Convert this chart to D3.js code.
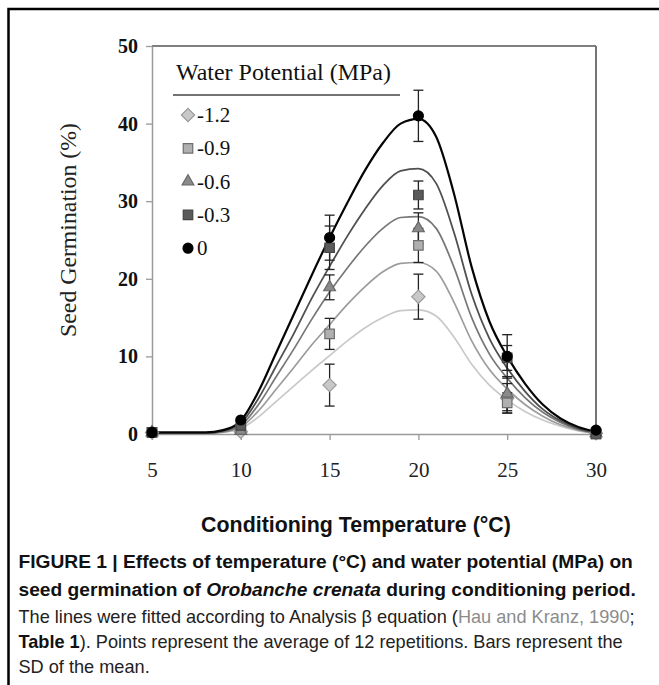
<!DOCTYPE html>
<html><head><meta charset="utf-8">
<script src="https://cdn.jsdelivr.net/npm/d3@7"></script>
<style>body{margin:0;background:#fff}svg{display:block}</style>
</head><body><svg id="c" width="659" height="685"></svg>
<script>
// ---------- data ----------
const temps = [5, 10, 15, 20, 25, 30];
const potentials = ["-1.2", "-0.9", "-0.6", "-0.3", "0"];
const mean_m12 = [0.2, 0.3, 6.3, 17.7, 4.6, 0.1];
const mean_m09 = [0.2, 0.6, 12.9, 24.3, 4.0, 0.0];
const mean_m06 = [0.2, 0.4, 18.9, 26.5, 5.2, 0.1];
const mean_m03 = [0.2, 1.1, 24.0, 30.8, 9.8, 0.0];
const mean_0   = [0.2, 1.8, 25.3, 41.0, 10.0, 0.5];
const sd_m12 = [0, 0, 2.7, 2.9, 1.9, 0];
const sd_m09 = [0, 0, 2.0, 2.2, 1.3, 0];
const sd_m06 = [0, 0, 1.6, 2.0, 2.2, 0];
const sd_m03 = [0, 0, 2.8, 1.8, 1.6, 0];
const sd_0   = [0, 0, 2.9, 3.3, 2.8, 0];
const fitTemps = [5,6,7,8,9,10,11,12,13,14,15,16,17,18,19,20,21,22,23,24,25,26,27,28,29,30];
const fit_m12 = [0.1,0.1,0.1,0.1,0.2,0.7,2.2,4.2,6.2,8.2,10.1,12.0,13.7,15.0,15.9,16.0,15.2,12.5,9.0,6.3,4.4,2.9,1.8,1.0,0.4,0.1];
const fit_m09 = [0.1,0.1,0.1,0.1,0.25,0.9,3.0,5.8,8.6,11.5,14.1,16.7,19.0,20.9,22.0,22.1,21.0,17.0,12.0,8.3,5.8,3.8,2.3,1.2,0.5,0.1];
const fit_m06 = [0.1,0.1,0.1,0.1,0.3,1.1,3.8,7.4,11.0,14.8,18.3,21.4,24.2,26.5,27.9,28.0,26.5,21.5,15.0,10.3,7.2,4.7,2.8,1.5,0.6,0.2];
const fit_m03 = [0.1,0.1,0.1,0.1,0.4,1.4,4.6,8.8,13.0,17.5,21.6,25.5,29.0,32.0,33.9,34.2,32.3,26.0,18.0,12.3,8.5,5.5,3.2,1.7,0.7,0.2];
const fit_0   = [0.2,0.2,0.2,0.2,0.5,1.7,5.5,10.5,15.5,20.5,25.3,29.8,34.0,37.5,40.0,40.6,38.3,31.0,21.5,14.5,10.0,6.5,3.8,2.0,0.9,0.3];
const xTicks = [5, 10, 15, 20, 25, 30];
const yTicks = [0, 10, 20, 30, 40, 50];
const legendTitle = "Water Potential (MPa)";
const xTitle = "Conditioning Temperature (°C)";
const yTitle = "Seed Germination (%)";

// ---------- styles ----------
const lineColors   = ["#c9c9c9", "#9c9c9c", "#777777", "#505050", "#050505"];
const lineWidths   = [1.7, 1.7, 1.7, 1.8, 2.2];
const markerFill   = ["#c8c8c8", "#b0b0b0", "#8a8a8a", "#5a5a5a", "#000000"];
const markerStroke = ["#9a9a9a", "#6e6e6e", "#666666", "#444444", "#000000"];
const markerKind   = ["diamond", "square", "triangle", "square", "circle"];

const means = [mean_m12, mean_m09, mean_m06, mean_m03, mean_0];
const sds   = [sd_m12, sd_m09, sd_m06, sd_m03, sd_0];
const fits  = [fit_m12, fit_m09, fit_m06, fit_m03, fit_0];

const svg = d3.select("#c");
const x = d3.scaleLinear().domain([5, 30]).range([152, 596]);
const y = d3.scaleLinear().domain([0, 50]).range([434, 46]);

function fitWidth(sel, target) {
  const w = sel.node().getComputedTextLength();
  const fs = parseFloat(sel.attr("font-size"));
  sel.attr("font-size", fs * target / w);
  return fs * target / w;
}

// outer frame (left and top)
svg.append("path").attr("d", "M8.5,685 L8.5,9 L659,9")
  .attr("fill", "none").attr("stroke", "#000").attr("stroke-width", 2.5);

// plot frame top/right
svg.append("line").attr("x1", x(5)).attr("x2", x(30)).attr("y1", y(50)).attr("y2", y(50))
  .attr("stroke", "#555").attr("stroke-width", 1.5);
svg.append("line").attr("x1", x(30)).attr("x2", x(30)).attr("y1", y(50)).attr("y2", y(0))
  .attr("stroke", "#666").attr("stroke-width", 1.8);

const serif = "'Liberation Serif','Times New Roman',serif";
const sans = "'Liberation Sans',Arial,Helvetica,sans-serif";

// axes
const yAxis = svg.append("g").attr("transform", `translate(${x(5)},0)`)
  .call(d3.axisLeft(y).tickValues(yTicks).tickSize(6).tickSizeOuter(0).tickPadding(8));
const xAxis = svg.append("g").attr("transform", `translate(0,${y(0)})`)
  .call(d3.axisBottom(x).tickValues(xTicks).tickSize(6).tickSizeOuter(0).tickPadding(22));
[yAxis, xAxis].forEach(g => {
  g.select(".domain").attr("stroke", "#9a9a9a").attr("stroke-width", 1.5);
  g.selectAll(".tick line").attr("stroke", "#9a9a9a").attr("stroke-width", 1.3);
  g.selectAll(".tick text").attr("font-family", serif).attr("font-size", 20).attr("fill", "#111");
});
yAxis.selectAll(".tick text").attr("font-weight", "bold");
xAxis.selectAll(".tick text").attr("font-size", 21).attr("fill", "#222");

// fitted curves
const line = d3.line().x(d => x(d[0])).y(d => y(d[1])).curve(d3.curveMonotoneX);
fits.forEach((f, i) => {
  svg.append("path").datum(fitTemps.map((t, k) => [t, f[k]]))
    .attr("d", line).attr("fill", "none")
    .attr("stroke", lineColors[i]).attr("stroke-width", lineWidths[i]);
});

function symbolPath(kind) {
  if (kind === "diamond") return d3.symbol().type(d3.symbolSquare).size(88)();
  if (kind === "square") return d3.symbol().type(d3.symbolSquare).size(90)();
  if (kind === "triangle") return d3.symbol().type(d3.symbolTriangle).size(60)();
  return d3.symbol().type(d3.symbolCircle).size(78)();
}
function drawMarker(g, kind, cx, cy, i) {
  g.append("path").attr("d", symbolPath(kind))
    .attr("transform", `translate(${cx},${cy})` + (kind === "diamond" ? " rotate(45)" : ""))
    .attr("fill", markerFill[i]).attr("stroke", markerStroke[i]).attr("stroke-width", 1.2);
}

// error bars + markers
const pts = svg.append("g");
means.forEach((m, i) => {
  m.forEach((v, k) => {
    const s = sds[i][k];
    if (s > 0) {
      const cx = x(temps[k]);
      const eg = pts.append("g").attr("stroke", "#222").attr("stroke-width", 1.3);
      eg.append("line").attr("x1", cx).attr("x2", cx).attr("y1", y(v - s)).attr("y2", y(v + s));
      eg.append("line").attr("x1", cx - 5).attr("x2", cx + 5).attr("y1", y(v - s)).attr("y2", y(v - s));
      eg.append("line").attr("x1", cx - 5).attr("x2", cx + 5).attr("y1", y(v + s)).attr("y2", y(v + s));
    }
  });
});
means.forEach((m, i) => {
  m.forEach((v, k) => drawMarker(pts, markerKind[i], x(temps[k]), y(v), i));
});

// legend
const lg = svg.append("g");
const lt = lg.append("text").attr("x", 176).attr("y", 80).attr("font-family", serif)
  .attr("font-size", 24).attr("fill", "#111").text(legendTitle);
fitWidth(lt, 215);
lg.append("line").attr("x1", 173).attr("x2", 400).attr("y1", 95).attr("y2", 95)
  .attr("stroke", "#444").attr("stroke-width", 1.5);
potentials.forEach((p, i) => {
  const cy = 115 + i * 33.3;
  drawMarker(lg, markerKind[i], 188, cy, i);
  lg.append("text").attr("x", 197).attr("y", cy + 7).attr("font-family", serif)
    .attr("font-size", 21).attr("fill", "#111").text(p);
});

// axis titles
const yt = svg.append("text").attr("transform", "translate(76,230) rotate(-90)")
  .attr("text-anchor", "middle").attr("font-family", serif).attr("font-size", 21)
  .attr("fill", "#222").text(yTitle);
fitWidth(yt, 214);
const xt = svg.append("text").attr("x", 356).attr("y", 532).attr("text-anchor", "middle")
  .attr("font-family", sans).attr("font-weight", "bold").attr("font-size", 20)
  .attr("fill", "#111").text(xTitle);
fitWidth(xt, 310);

// caption
const cap = svg.append("g").attr("font-family", sans).attr("fill", "#111");
const l1 = cap.append("text").attr("x", 18.5).attr("y", 568).attr("font-size", 16).attr("font-weight", "bold")
  .text("FIGURE 1 | Effects of temperature (°C) and water potential (MPa) on");
const boldSize = fitWidth(l1, 614.5);
const l2 = cap.append("text").attr("x", 18.5).attr("y", 596).attr("font-size", boldSize).attr("font-weight", "bold");
l2.append("tspan").text("seed germination of ");
l2.append("tspan").attr("font-style", "italic").text("Orobanche crenata");
l2.append("tspan").text(" during conditioning period.");
const l3 = cap.append("text").attr("x", 18.5).attr("y", 623).attr("font-size", 16).attr("fill", "#222");
l3.append("tspan").text("The lines were fitted according to Analysis β equation (");
l3.append("tspan").attr("fill", "#8c8c8c").text("Hau and Kranz, 1990");
l3.append("tspan").text(";");
const regSize = fitWidth(l3, 616.5);
const l4 = cap.append("text").attr("x", 18.5).attr("y", 648).attr("font-size", regSize).attr("fill", "#222");
l4.append("tspan").attr("font-weight", "bold").attr("fill", "#111").text("Table 1");
l4.append("tspan").text("). Points represent the average of 12 repetitions. Bars represent the");
cap.append("text").attr("x", 18.5).attr("y", 673).attr("font-size", regSize).attr("fill", "#222")
  .text("SD of the mean.");
</script></body></html>
